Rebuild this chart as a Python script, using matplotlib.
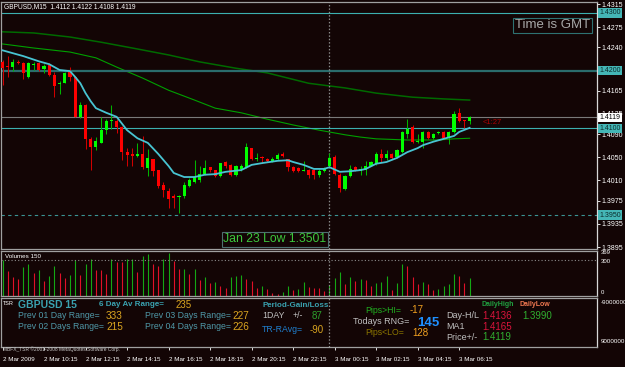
import numpy as np
import matplotlib
matplotlib.use('Agg')
import matplotlib.pyplot as plt
from matplotlib.transforms import blended_transform_factory

plt.rcParams['font.family'] = ['Liberation Sans', 'DejaVu Sans']

# GBPUSD M15 bars, 2 Mar 2009 08:15 .. 3 Mar 2009 06:45
opens = [1.4215, 1.4208, 1.4206, 1.4215, 1.4213, 1.4189, 1.4210, 1.4213, 1.4203, 1.4210,
         1.4192, 1.4176, 1.4178, 1.4198, 1.4189, 1.4120, 1.4140, 1.4082, 1.4068, 1.4075,
         1.4097, 1.4112, 1.4113, 1.4102, 1.4059, 1.4056, 1.4052, 1.4056, 1.4032, 1.4047,
         1.4028, 1.4002, 1.3992, 1.3983, 1.3981, 1.3983, 1.4000, 1.4007, 1.4011, 1.4021,
         1.4033, 1.4028, 1.4018, 1.4042, 1.4037, 1.4020, 1.4030, 1.4033, 1.4066, 1.4048,
         1.4051, 1.4047, 1.4044, 1.4047, 1.4056, 1.4047, 1.4033, 1.4032, 1.4027, 1.4028,
         1.4028, 1.4020, 1.4026, 1.4035, 1.4051, 1.4020, 1.3995, 1.4018, 1.4033, 1.4026,
         1.4028, 1.4035, 1.4039, 1.4056, 1.4049, 1.4056, 1.4051, 1.4059, 1.4090, 1.4102,
         1.4077, 1.4077, 1.4094, 1.4083, 1.4092, 1.4094, 1.4085, 1.4094, 1.4127, 1.4115,
         1.4112]
highs = [1.4218, 1.4225, 1.4220, 1.4218, 1.4215, 1.4215, 1.4215, 1.4215, 1.4211, 1.4213,
         1.4198, 1.4182, 1.4198, 1.4206, 1.4191, 1.4146, 1.4142, 1.4085, 1.4085, 1.4120,
         1.4116, 1.4140, 1.4116, 1.4104, 1.4066, 1.4066, 1.4075, 1.4087, 1.4064, 1.4048,
         1.4029, 1.4007, 1.3997, 1.3987, 1.3985, 1.4007, 1.4014, 1.4045, 1.4035, 1.4045,
         1.4034, 1.4029, 1.4041, 1.4043, 1.4038, 1.4037, 1.4039, 1.4075, 1.4067, 1.4057,
         1.4052, 1.4049, 1.4051, 1.4057, 1.4059, 1.4048, 1.4035, 1.4033, 1.4044, 1.4030,
         1.4029, 1.4030, 1.4033, 1.4057, 1.4054, 1.4023, 1.4020, 1.4037, 1.4035, 1.4035,
         1.4044, 1.4044, 1.4059, 1.4064, 1.4063, 1.4057, 1.4064, 1.4096, 1.4116, 1.4106,
         1.4090, 1.4096, 1.4096, 1.4092, 1.4096, 1.4096, 1.4096, 1.4130, 1.4136, 1.4115,
         1.4122]
lows = [1.4175, 1.4189, 1.4199, 1.4211, 1.4185, 1.4187, 1.4201, 1.4199, 1.4196, 1.4190,
        1.4154, 1.4159, 1.4178, 1.4182, 1.4119, 1.4118, 1.4064, 1.4028, 1.4063, 1.4074,
        1.4090, 1.4099, 1.4092, 1.4045, 1.4035, 1.4035, 1.4051, 1.4030, 1.4018, 1.4018,
        1.3997, 1.3981, 1.3962, 1.3962, 1.3954, 1.3980, 1.3999, 1.4006, 1.4007, 1.4020,
        1.4025, 1.4016, 1.4016, 1.4032, 1.4018, 1.4018, 1.4026, 1.4032, 1.4045, 1.4044,
        1.4040, 1.4042, 1.4042, 1.4045, 1.4051, 1.4026, 1.4025, 1.4025, 1.4026, 1.4014,
        1.4013, 1.4016, 1.4025, 1.4033, 1.4020, 1.3990, 1.3994, 1.4016, 1.4026, 1.4020,
        1.4020, 1.4035, 1.4037, 1.4042, 1.4045, 1.4047, 1.4049, 1.4057, 1.4083, 1.4075,
        1.4075, 1.4066, 1.4082, 1.4082, 1.4090, 1.4082, 1.4073, 1.4092, 1.4111, 1.4101,
        1.4108]
closes = [1.4204, 1.4206, 1.4215, 1.4213, 1.4196, 1.4213, 1.4211, 1.4201, 1.4208, 1.4192,
          1.4173, 1.4177, 1.4196, 1.4189, 1.4120, 1.4140, 1.4082, 1.4068, 1.4078, 1.4097,
          1.4113, 1.4113, 1.4102, 1.4059, 1.4054, 1.4052, 1.4055, 1.4033, 1.4049, 1.4026,
          1.4000, 1.3994, 1.3978, 1.3980, 1.3983, 1.4002, 1.4011, 1.4016, 1.4021, 1.4032,
          1.4028, 1.4018, 1.4040, 1.4035, 1.4020, 1.4035, 1.4035, 1.4068, 1.4047, 1.4049,
          1.4049, 1.4044, 1.4047, 1.4054, 1.4052, 1.4033, 1.4026, 1.4026, 1.4028, 1.4020,
          1.4020, 1.4026, 1.4030, 1.4049, 1.4021, 1.3997, 1.4018, 1.4030, 1.4028, 1.4030,
          1.4035, 1.4042, 1.4056, 1.4049, 1.4056, 1.4049, 1.4063, 1.4094, 1.4099, 1.4077,
          1.4078, 1.4094, 1.4083, 1.4090, 1.4094, 1.4083, 1.4094, 1.4125, 1.4113, 1.4113,
          1.4119]
volumes = [300, 208, 156, 144, 242, 271, 193, 216, 121, 162,
           254, 190, 150, 173, 300, 173, 265, 309, 219, 216,
           185, 309, 288, 285, 306, 310, 202, 335, 352, 265,
           250, 312, 358, 294, 222, 225, 185, 225, 133, 156,
           104, 115, 81, 63, 156, 162, 173, 144, 127, 63,
           81, 52, 23, 17, 29, 81, 46, 52, 115, 75,
           63, 60, 35, 90, 150, 196, 98, 156, 121, 144,
           133, 81, 104, 115, 167, 46, 104, 265, 248, 156,
           98, 115, 98, 46, 52, 81, 98, 185, 167, 110,
           150]

# moving averages (bar index, price)
ma_fast_bars = [0, 4, 7, 9, 11, 13, 14, 15, 16, 17, 18, 20, 22, 24, 26, 28, 30, 32, 33, 35,
                37, 39, 41, 43, 46, 48, 50, 53, 55, 56, 58, 60, 62, 63, 65, 67, 69, 70, 72,
                74, 76, 78, 80, 81, 83, 85, 87, 88, 90]
ma_fast = [1.4235, 1.4225, 1.4216, 1.4211, 1.4201, 1.4199, 1.4189, 1.4178, 1.4161, 1.4147,
           1.4135, 1.4127, 1.4120, 1.4097, 1.4083, 1.4075, 1.4056, 1.4035, 1.4023, 1.4016,
           1.4016, 1.4020, 1.4021, 1.4025, 1.4028, 1.4037, 1.4040, 1.4044, 1.4045, 1.4042,
           1.4037, 1.4030, 1.4030, 1.4033, 1.4025, 1.4026, 1.4028, 1.4030, 1.4039, 1.4042,
           1.4049, 1.4059, 1.4066, 1.4071, 1.4077, 1.4082, 1.4087, 1.4094, 1.4101]
ma_mid_bars = [0, 6, 13, 18, 22, 27, 32, 37, 41, 46, 51, 56, 61, 66, 69, 72, 78, 84, 87, 90]
ma_mid = [1.4246, 1.4239, 1.4232, 1.4222, 1.4206, 1.4187, 1.4166, 1.4149, 1.4135, 1.4127,
          1.4116, 1.4106, 1.4097, 1.4089, 1.4085, 1.4082, 1.4080, 1.4080, 1.4082, 1.4083]
ma_slow_bars = [0, 6, 13, 19, 25, 32, 38, 45, 51, 59, 66, 72, 79, 85, 90]
ma_slow = [1.4267, 1.4265, 1.4258, 1.4249, 1.4239, 1.4227, 1.4215, 1.4204, 1.4196, 1.4178,
           1.4170, 1.4161, 1.4154, 1.4151, 1.4149]

price_ticks = [1.4315, 1.4275, 1.4240, 1.4165, 1.4125, 1.4090, 1.4050, 1.4010, 1.3975, 1.3935, 1.3895]
time_tick_bars = [0, 8, 16, 24, 32, 40, 48, 56, 64, 72, 80, 88]
time_labels = ['2 Mar 2009', '2 Mar 10:15', '2 Mar 12:15', '2 Mar 14:15', '2 Mar 16:15',
               '2 Mar 18:15', '2 Mar 20:15', '2 Mar 22:15', '3 Mar 00:15', '3 Mar 02:15',
               '3 Mar 04:15', '3 Mar 06:15']

BG = '#130505'
W, H = 625, 367


def panel(x0, y0, x1, y1):
    a = fig.add_axes([x0 / W, 1 - y1 / H, (x1 - x0) / W, (y1 - y0) / H])
    a.set_facecolor(BG)
    for s in a.spines.values():
        s.set_color('#a0a0a0')
        s.set_linewidth(0.9)
    a.spines['right'].set_color('#d8d8d8')
    a.set_xlim(-0.29, -0.29 + 596 / 5.19)
    a.tick_params(colors='white', labelcolor='white')
    return a


fig = plt.figure(figsize=(W / 100, H / 100), dpi=100)
fig.patch.set_facecolor(BG)

ax = panel(1, 2, 597, 249)
axv = panel(1, 251, 597, 296)
axi = panel(1, 298, 597, 347)

# ---- price panel
x = np.arange(len(closes))
o, hi, lo, c = map(np.array, (opens, highs, lows, closes))
up = c >= o
ax.vlines(x[up], lo[up], hi[up], color='#00b400', lw=0.75, zorder=3)
ax.vlines(x[~up], lo[~up], hi[~up], color='#d00000', lw=0.75, zorder=3)
body = np.maximum(np.abs(c - o), 0.00017)
ax.bar(x[up], body[up], bottom=o[up], width=0.6, color='#00ff00', linewidth=0, zorder=4)
ax.bar(x[~up], body[~up], bottom=c[~up], width=0.6, color='#ff0000', linewidth=0, zorder=4)

ax.plot(ma_slow_bars, ma_slow, color='#006a00', lw=1.1, zorder=2)
ax.plot(ma_mid_bars, ma_mid, color='#00a000', lw=0.8, zorder=2)
ax.plot(ma_fast_bars, ma_fast, color='#48c4d2', lw=1.3, zorder=5)

ax.axhline(1.4300, color='#3cb0b0', lw=0.8)
ax.axhline(1.4200, color='#2a6c6c', lw=1.6)
ax.axhline(1.4100, color='#3cb0b0', lw=0.8)
ax.axhline(1.4119, color='#7a7a7a', lw=0.8)
ax.axhline(1.3950, color='#3a9494', lw=0.8, ls=(0, (3, 3)))
ax.axvline(63, color='#8a8a8a', lw=0.9, ls=(0, (1.2, 1.5)))

ax.set_ylim(1.38916, 1.43185)
ax.yaxis.tick_right()
ax.set_yticks(price_ticks)
ax.set_yticklabels([f'{p:.4f}' for p in price_ticks])
ax.tick_params(axis='y', labelsize=5, length=2, width=0.6, pad=1.5)
ax.set_xticks([])

tr = blended_transform_factory(ax.transAxes, ax.transData)
for val, fc, tc in [(1.4300, '#44b6b6', '#0c2c2c'), (1.4200, '#44b6b6', '#0c2c2c'),
                    (1.4100, '#44b6b6', '#0c2c2c'), (1.3950, '#44b6b6', '#0c2c2c'),
                    (1.4119, 'white', 'black')]:
    ax.text(1.004, val, f'{val:.4f}', transform=tr, fontsize=5, color=tc, va='center',
            ha='left', clip_on=False, zorder=6,
            bbox=dict(boxstyle='square,pad=0.2', fc=fc, ec='none'))

ax.text(0.005, 0.994, 'GBPUSD,M15  1.4112 1.4122 1.4108 1.4119', transform=ax.transAxes,
        fontsize=4.8, color='white', va='top', ha='left')
ax.text(0.8625, 0.905, 'Time is GMT', transform=ax.transAxes, fontsize=9.5, color='#a8a8a8',
        va='center', ha='left',
        bbox=dict(boxstyle='square,pad=0.12', fc='none', ec='#2e7272', lw=0.8))
ax.text(0.3725, 0.0385, 'Jan 23 Low 1.3501', transform=ax.transAxes, fontsize=8.8,
        color='#3cc83c', va='center', ha='left',
        bbox=dict(boxstyle='square,pad=0.12', fc='none', ec='#4e7070', lw=0.8))
ax.text(92.6, 1.4111, '<1:27', fontsize=5.5, color='#b00000', va='center', ha='left')

# ---- volume panel
vcol = ['#14a814'] + ['#14a814' if volumes[i] > volumes[i - 1] else '#e01028'
                      for i in range(1, len(volumes))]
axv.vlines(x, 0, volumes, colors=vcol, lw=0.8)
axv.axhline(300, color='#8a8a8a', lw=0.8, ls=(0, (1, 2)))
axv.axvline(63, color='#8a8a8a', lw=0.9, ls=(0, (1.2, 1.5)))
axv.set_ylim(-4, 378)
axv.set_xticks([])
axv.set_yticks([])
axv.text(0.006, 0.94, 'Volumes 150', transform=axv.transAxes, fontsize=4.5, color='white',
         va='top', ha='left')
trv = blended_transform_factory(axv.transAxes, axv.transData)
for val, pos in ((369, 362), (300, 285), (0, 25)):
    axv.text(1.006, pos, str(val), transform=trv, fontsize=4.3, color='white',
             va='center', ha='left', clip_on=False)

# ---- indicator panel
axi.set_ylim(0, 1)
axi.set_yticks([])
axi.axvline(63, color='#8a8a8a', lw=0.9, ls=(0, (1.2, 1.5)))
axi.set_xticks(time_tick_bars)
axi.set_xticklabels(time_labels, ha='left')
axi.tick_params(axis='x', labelsize=4.5, length=2, width=0.6, pad=5)

TEAL = '#3aa2b0'
STEEL = '#4f98a8'
GOLD = '#daa520'
SILVER = '#c0c0c0'
ORANGE = '#f0a020'
info = [
    (0.003, 0.888, 'TSR', 'white', 4, 'normal'),
    (0.0285, 0.867, 'GBPUSD 15', TEAL, 7.5, 'bold'),
    (0.1644, 0.867, '6 Day Av Range=', TEAL, 5.8, 'bold'),
    (0.2936, 0.857, '235', GOLD, 7, 'normal'),
    (0.0285, 0.633, 'Prev 01 Day Range=', STEEL, 6.3, 'normal'),
    (0.1762, 0.633, '333', GOLD, 7.2, 'normal'),
    (0.0285, 0.418, 'Prev 02 Days Range=', STEEL, 6.3, 'normal'),
    (0.1762, 0.418, '215', GOLD, 7.2, 'normal'),
    (0.2416, 0.633, 'Prev 03 Days Range=', STEEL, 6.3, 'normal'),
    (0.3876, 0.633, '227', GOLD, 7.2, 'normal'),
    (0.2416, 0.418, 'Prev 04 Days Range=', STEEL, 6.3, 'normal'),
    (0.3876, 0.418, '226', GOLD, 7.2, 'normal'),
    (0.438, 0.857, 'Period-Gain/Loss', TEAL, 5.8, 'bold'),
    (0.438, 0.633, '1DAY', SILVER, 6.3, 'normal'),
    (0.4899, 0.633, '+/-', SILVER, 6.3, 'normal'),
    (0.5218, 0.633, '87', '#2ca02c', 7, 'normal'),
    (0.438, 0.357, 'TR-RAvg=', '#2080d0', 6.3, 'normal'),
    (0.5185, 0.357, '-90', GOLD, 7, 'normal'),
    (0.6107, 0.745, 'Pips>HI=', '#20b020', 6.3, 'normal'),
    (0.6862, 0.745, '-17', ORANGE, 7, 'normal'),
    (0.5906, 0.520, 'Todays RNG=', SILVER, 6.5, 'normal'),
    (0.698, 0.480, '145', '#1e90ff', 9.5, 'bold'),
    (0.6107, 0.286, 'Pips<LO=', '#8b7500', 6.3, 'normal'),
    (0.6896, 0.286, '128', ORANGE, 7, 'normal'),
    (0.807, 0.867, 'DailyHigh', '#20a040', 5, 'bold'),
    (0.8708, 0.867, 'DailyLow', '#f07850', 5, 'bold'),
    (0.7466, 0.633, 'Day-H/L', SILVER, 6.5, 'normal'),
    (0.807, 0.633, '1.4136', '#dc143c', 7, 'normal'),
    (0.8742, 0.633, '1.3990', '#30b030', 7, 'normal'),
    (0.7466, 0.418, 'MA1', SILVER, 6.5, 'normal'),
    (0.807, 0.418, '1.4165', '#dc143c', 7, 'normal'),
    (0.7466, 0.204, 'Price+/-', SILVER, 6.5, 'normal'),
    (0.807, 0.194, '1.4119', '#30b030', 7, 'normal'),
]
for tx, ty, s, col, size, weight in info:
    axi.text(tx, ty, s, transform=axi.transAxes, fontsize=size, color=col,
             fontweight=weight, va='center', ha='left')

axi.text(1.006, 0.918, '-9000000', transform=axi.transAxes, fontsize=4.5, color='white',
         va='center', ha='left', clip_on=False)
axi.text(1.006, 0.122, '9000000', transform=axi.transAxes, fontsize=4.5, color='white',
         va='center', ha='left', clip_on=False)
axi.text(0.003, -0.05, 'MBFX_TSR \u00a92001-2008 MetaQuotes Software Corp.',
         transform=axi.transAxes, fontsize=3.5, color='#c8c8c8', va='center', ha='left')

fig.savefig('out.png', dpi=100, facecolor=BG)
